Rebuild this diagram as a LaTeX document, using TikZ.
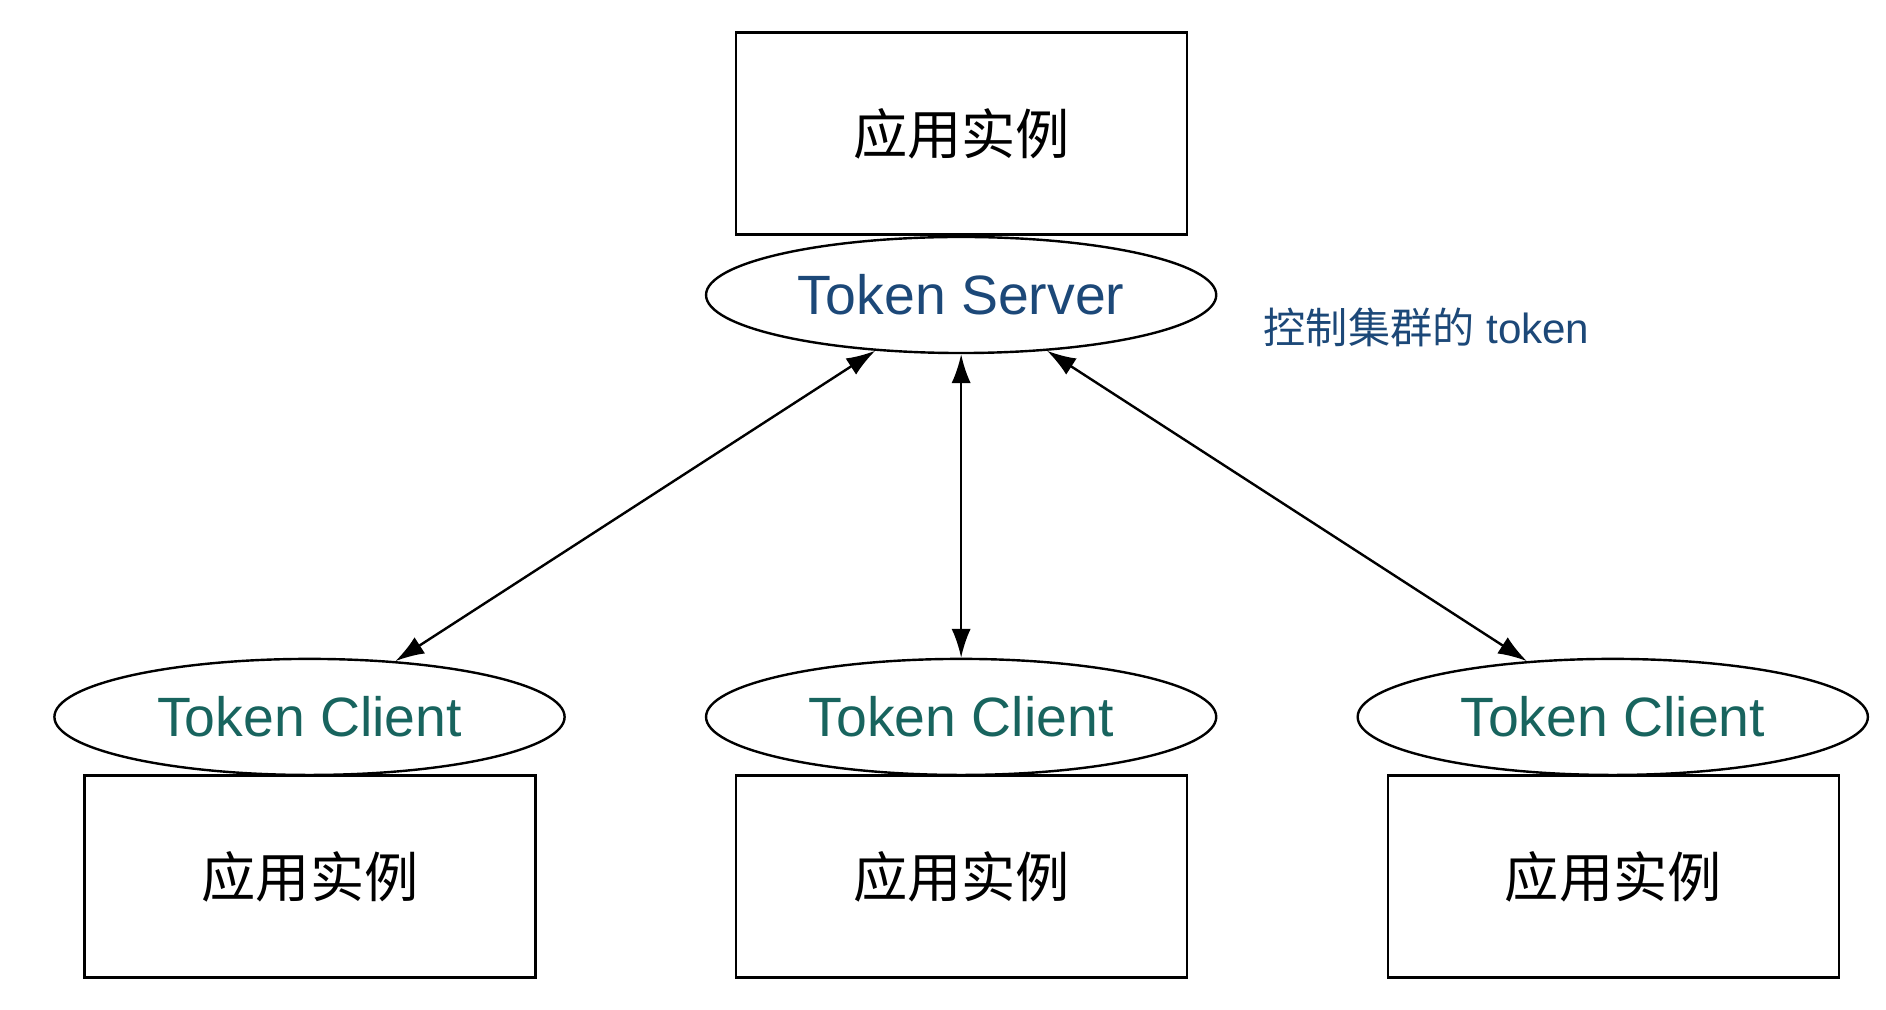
\documentclass[tikz,border=0pt]{standalone}
\usepackage{fontspec}
\setmainfont{Liberation Sans}
\newfontfamily\cjk{Noto Sans CJK SC}
\usetikzlibrary{shapes.geometric,arrows.meta}
\definecolor{srvblue}{RGB}{28,72,120}
\definecolor{cliteal}{RGB}{24,100,94}
\begin{document}
\begin{tikzpicture}[x=1bp,y=-1bp,
  app/.style={draw,line width=2pt,minimum width=373bp,minimum height=167bp,inner sep=0pt,font=\cjk\fontsize{45}{50}\selectfont},
  ell/.style={draw,ellipse,line width=2pt,minimum width=422bp,minimum height=96bp,inner sep=0pt,font=\fontsize{46}{52}\selectfont},
  conn/.style={line width=2pt,{Latex[length=24pt,width=16pt]}-{Latex[length=24pt,width=16pt]}}]
\useasboundingbox (0,0) rectangle (1560,835);
\node[app] (top) at (795.5,110.5) {应用实例};
\node[ell,text=srvblue] (srv) at (795,244) {Token Server};
\node[text=srvblue,font=\fontsize{35}{40}\selectfont] (note) at (1180,271) {{\cjk 控制集群的} token};
\foreach \i/\x in {1/256,2/795,3/1334}{
  \node[ell,text=cliteal] (c\i) at (\x,593) {Token Client};
  \node[app] (b\i) at (\x+0.5,725) {应用实例};
}
\draw[conn] (srv.213) -- (c1.33);
\draw[conn] (srv.270) -- (c2.90);
\draw[conn] (srv.327) -- (c3.147);
\end{tikzpicture}
\end{document}
